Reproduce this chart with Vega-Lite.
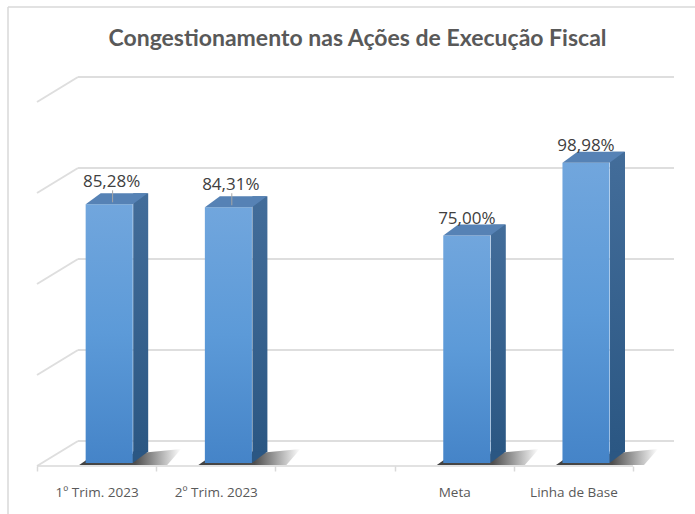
{
  "$schema": "https://vega.github.io/schema/vega-lite/v6.json",
  "width": 687,
  "height": 507,
  "autosize": {"type": "none"},
  "padding": {"left": 8, "top": 7, "right": 0, "bottom": 0},
  "background": "white",
  "title": {
    "text": "Congestionamento nas Ações de Execução Fiscal",
    "font": "Lato",
    "fontSize": 23,
    "fontWeight": "bold",
    "color": "#595959",
    "anchor": "middle",
    "frame": "group",
    "baseline": "alphabetic",
    "offset": -62,
    "dx": 6
  },
  "config": {
    "view": {"stroke": "#d9d9d9", "strokeWidth": 1.5, "strokeDash": [687, 1194, 507, 0]},
    "locale": {"number": {"decimal": ",", "thousands": ".", "grouping": [3], "currency": ["R$ ", ""]}}
  },
  "datasets": {
    "bars": [
      {"cat": "1º Trim. 2023", "v": 0.8528},
      {"cat": "2º Trim. 2023", "v": 0.8431},
      {"cat": "Meta", "v": 0.75},
      {"cat": "Linha de Base", "v": 0.9898}
    ],
    "grid": [
      {"g": 0}, {"g": 0.3}, {"g": 0.6}, {"g": 0.9}, {"g": 1.2}
    ]
  },
  "encoding": {
    "x": {
      "field": "cat",
      "type": "nominal",
      "sort": null,
      "scale": {"domain": ["1º Trim. 2023", "2º Trim. 2023", " ", "Meta", "Linha de Base"], "paddingInner": 0, "paddingOuter": 0.3817, "align": 0.3187},
      "axis": {
        "title": null,
        "offset": -48,
        "domain": false,
        "labelAngle": 0,
        "labelFont": "Open Sans",
        "labelFontSize": 13.5,
        "labelColor": "#595959",
        "labelPadding": 14,
        "tickBand": "extent",
        "tickSize": 5,
        "tickColor": "#d9d9d9",
        "tickWidth": 1.5,
        "grid": false
      }
    }
  },
  "layer": [
    {
      "data": {"name": "grid"},
      "mark": {"type": "rule", "color": "#dedede", "strokeWidth": 2, "xOffset": 41, "x2Offset": 41, "yOffset": -25},
      "encoding": {
        "x": {"datum": "1º Trim. 2023", "type": "nominal", "bandPosition": 0},
        "x2": {"datum": "Linha de Base", "bandPosition": 1},
        "y": {"field": "g", "type": "quantitative", "scale": {"domain": [-0.1582, 1.5132], "nice": false, "zero": false}, "axis": null}
      }
    },
    {
      "data": {"name": "grid"},
      "mark": {"type": "rule", "color": "#dedede", "strokeWidth": 2, "x2Offset": 41, "y2Offset": -25},
      "encoding": {
        "x": {"datum": "1º Trim. 2023", "type": "nominal", "bandPosition": 0},
        "x2": {"datum": "1º Trim. 2023", "bandPosition": 0},
        "y": {"field": "g", "type": "quantitative"},
        "y2": {"field": "g"}
      }
    },
    {
      "data": {"name": "grid"},
      "transform": [{"filter": "datum.g == 0"}],
      "mark": {"type": "rule", "color": "#d9d9d9", "strokeWidth": 1.5},
      "encoding": {
        "x": {"datum": "1º Trim. 2023", "type": "nominal", "bandPosition": 0},
        "x2": {"datum": "Linha de Base", "bandPosition": 1},
        "y": {"field": "g", "type": "quantitative"}
      }
    },
    {
      "data": {"name": "bars"},
      "mark": {"type": "point", "filled": true, "size": 4, "xOffset": 12.6, "yOffset": -3, "opacity": 0.85,
        "shape": "M-30,2 L-20,-5 L72,-14 L58,2 Z",
        "color": {"gradient": "linear", "x1": 0, "y1": 0, "x2": 1, "y2": 0, "stops": [{"offset": 0, "color": "#202020"}, {"offset": 0.55, "color": "#303030"}, {"offset": 0.75, "color": "#8a8a8a"}, {"offset": 1, "color": "#ffffff"}]}},
      "encoding": {"y": {"datum": 0, "type": "quantitative"}}
    },
    {
      "data": {"name": "bars"},
      "mark": {"type": "bar", "width": {"band": 0.1258}, "xOffset": 44.1, "yOffset": -14, "y2Offset": -14,
        "color": {"gradient": "linear", "x1": 0, "y1": 0, "x2": 0, "y2": 1, "stops": [{"offset": 0, "color": "#436d9a"}, {"offset": 1, "color": "#2b5783"}]}},
      "encoding": {"y": {"field": "v", "type": "quantitative"}, "y2": {"datum": 0}}
    },
    {
      "data": {"name": "bars"},
      "mark": {"type": "point", "filled": true, "opacity": 1, "size": 4, "xOffset": 12.6, "yOffset": -3, "color": "#2b5783",
        "shape": "M23.5,-11.5 L23.5,0 L39,-11.5 Z"},
      "encoding": {"y": {"datum": 0, "type": "quantitative"}}
    },
    {
      "data": {"name": "bars"},
      "mark": {"type": "bar", "width": {"band": 0.395}, "xOffset": 12.6, "yOffset": -3, "y2Offset": -3,
        "color": {"gradient": "linear", "x1": 0, "y1": 0, "x2": 0, "y2": 1, "stops": [{"offset": 0, "color": "#71a6dd"}, {"offset": 0.5, "color": "#5c9ad8"}, {"offset": 1, "color": "#4584c8"}]}},
      "encoding": {"y": {"field": "v", "type": "quantitative"}, "y2": {"datum": 0}}
    },
    {
      "data": {"name": "bars"},
      "mark": {"type": "point", "filled": true, "opacity": 1, "size": 4, "xOffset": 12.6, "yOffset": -3, "color": "#5682b5",
        "shape": "M-23.5,0 L-8.5,-11 L38.5,-11 L23.5,0 Z"},
      "encoding": {"y": {"field": "v", "type": "quantitative"}}
    },
    {
      "data": {"name": "bars"},
      "transform": [{"filter": "datum.cat == '1º Trim. 2023' || datum.cat == '2º Trim. 2023'"}],
      "mark": {"type": "rule", "color": "#a6a6a6", "strokeWidth": 1, "xOffset": 16, "yOffset": -17, "y2Offset": -5},
      "encoding": {
        "y": {"field": "v", "type": "quantitative"},
        "y2": {"field": "v"}
      }
    },
    {
      "data": {"name": "bars"},
      "transform": [{"filter": "datum.cat == '1º Trim. 2023' || datum.cat == '2º Trim. 2023'"}],
      "mark": {"type": "text", "font": "Open Sans", "fontSize": 17, "color": "#404040", "baseline": "alphabetic", "dy": -20, "xOffset": 15},
      "encoding": {
        "y": {"field": "v", "type": "quantitative"},
        "text": {"field": "v", "type": "quantitative", "format": ".2%"}
      }
    },
    {
      "data": {"name": "bars"},
      "transform": [{"filter": "datum.cat == 'Meta' || datum.cat == 'Linha de Base'"}],
      "mark": {"type": "text", "font": "Open Sans", "fontSize": 17, "color": "#404040", "baseline": "alphabetic", "dy": -15, "xOffset": 12.6},
      "encoding": {
        "y": {"field": "v", "type": "quantitative"},
        "text": {"field": "v", "type": "quantitative", "format": ".2%"}
      }
    }
  ]
}
